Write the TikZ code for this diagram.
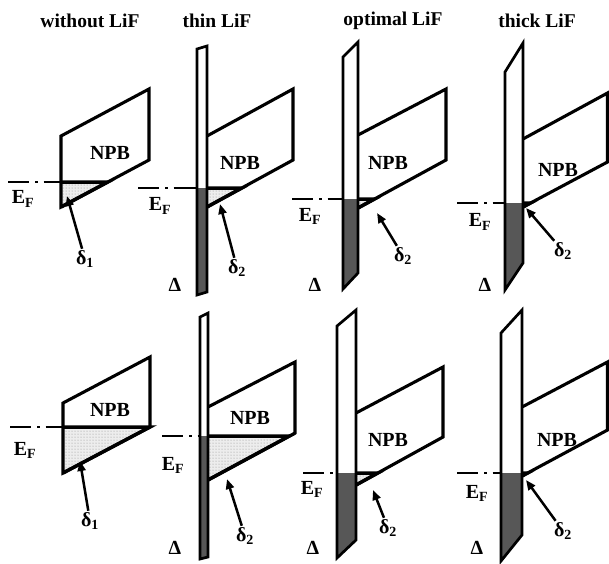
\documentclass[tikz,border=0pt]{standalone}
\usepackage{fontspec}
\setmainfont{Liberation Serif}
\usetikzlibrary{arrows.meta, patterns}

\begin{document}
\begin{tikzpicture}[
    x=1pt, y=-1pt,
    npb/.style={
        draw=black,
        line width=3.1pt,
        line join=miter
    },
    lifbar/.style={
        draw=black,
        line width=2.7pt,
        line join=miter
    },
    filled/.style={
        fill=black!66
    },
    stipple/.style={
        fill=black!7,
        postaction={pattern=dots, pattern color=black!45}
    },
    triedge/.style={
        draw=black,
        line width=3.5pt,
        line join=miter
    },
    efline/.style={
        draw=black,
        line width=2.7pt,
        dash pattern=on 21pt off 6pt on 2.5pt off 6pt on 400pt
    },
    title/.style={
        font=\fontsize{19.5}{22}\selectfont\bfseries
    },
    lbl/.style={
        font=\fontsize{20}{23}\selectfont\bfseries,
        inner sep=1.5pt
    },
    ptr/.style={
        -{Triangle[length=10pt, width=8pt]},
        line width=2.5pt
    }
]
\useasboundingbox (0,0) rectangle (609,563);

% Titles
\node (tA) [title] at (90,21) {without LiF};
\node (tB) [title] at (217,21) {thin LiF};
\node (tC) [title] at (393,21) {optimal LiF};
\node (tD) [title] at (537,21) {thick LiF};

% without LiF, top
\fill[stipple] (61,182) -- (107.8,182) -- (61,207) -- cycle;
\draw[efline] (8,182) -- (61,182);
\draw[npb] (61,136) -- (149,89) -- (149,160) -- (61,207) -- cycle;
\draw[triedge] (61,182) -- (107.8,182) -- (61,207);
\node (efA) [lbl] at (23,199) {E\textsubscript{F}};
\node (npbA) [lbl] at (110,153) {NPB};
\node (dA) [lbl] at (85,259) {δ\textsubscript{1}};
\coordinate (tipA) at (67,196);
\draw[ptr] (dA) -- (tipA);

% thin LiF, top
\fill[filled] (197,188) -- (207,188) -- (207,292) -- (197,295) -- cycle;
\fill[stipple] (207,188) -- (241.8,188) -- (207,207) -- cycle;
\draw[efline] (138,188) -- (197,188);
\draw[lifbar] (197,49) -- (207,46) -- (207,292) -- (197,295) -- cycle;
\draw[npb] (207,136) -- (293,89) -- (293,160) -- (207,207);
\draw[triedge] (207,188) -- (241.8,188) -- (207,207);
\node (efB) [lbl] at (160,206) {E\textsubscript{F}};
\node (npbB) [lbl] at (240,163) {NPB};
\node (delB) [lbl] at (175,285) {Δ};
\node (dB) [lbl] at (237,268) {δ\textsubscript{2}};
\coordinate (tipB) at (220,204);
\draw[ptr] (dB) -- (tipB);

% optimal LiF, top
\fill[filled] (343,199) -- (358,199) -- (358,273) -- (343,289) -- cycle;
\fill[stipple] (358,199) -- (374.5,199) -- (358,208) -- cycle;
\draw[efline] (292,199) -- (343,199);
\draw[lifbar] (343,57) -- (358,42) -- (358,273) -- (343,289) -- cycle;
\draw[npb] (358,135) -- (446,89) -- (446,160) -- (358,208);
\draw[triedge] (358,199) -- (374.5,199) -- (358,208);
\node (efC) [lbl] at (310,216) {E\textsubscript{F}};
\node (npbC) [lbl] at (388,163) {NPB};
\node (delC) [lbl] at (315,285) {Δ};
\node (dC) [lbl] at (403,256) {δ\textsubscript{2}};
\coordinate (tipC) at (377,213);
\draw[ptr] (dC) -- (tipC);

% thick LiF, top
\fill[filled] (505,203) -- (523,203) -- (523,263) -- (505,290) -- cycle;
\fill[stipple] (523,203) -- (530.5,203) -- (523,207) -- cycle;
\draw[efline] (457,203) -- (505,203);
\draw[lifbar] (505,72) -- (523,43) -- (523,263) -- (505,290) -- cycle;
\draw[npb] (523,139) -- (607.5,93) -- (607.5,162) -- (523,207);
\draw[triedge] (523,203) -- (530.5,203) -- (523,207);
\node (efD) [lbl] at (480,222) {E\textsubscript{F}};
\node (npbD) [lbl] at (558,170) {NPB};
\node (delD) [lbl] at (485,285) {Δ};
\node (dD) [lbl] at (563,251) {δ\textsubscript{2}};
\coordinate (tipD) at (526,208);
\draw[ptr] (dD) -- (tipD);

% without LiF, bottom
\fill[stipple] (63,427) -- (150,427) -- (63,473) -- cycle;
\draw[efline] (10,427) -- (63,427);
\draw[npb] (63,403) -- (150,357) -- (150,427) -- (63,473) -- cycle;
\draw[triedge] (63,427) -- (150,427) -- (63,473);
\node (efE) [lbl] at (25,450) {E\textsubscript{F}};
\node (npbE) [lbl] at (110,410) {NPB};
\node (dE) [lbl] at (90,521) {δ\textsubscript{1}};
\coordinate (tipE) at (80,461);
\draw[ptr] (dE) -- (tipE);

% thin LiF, bottom
\fill[filled] (200,436) -- (208,436) -- (208,557) -- (200,559) -- cycle;
\fill[stipple] (208,436) -- (289.4,436) -- (208,480) -- cycle;
\draw[efline] (162,436) -- (200,436);
\draw[lifbar] (200,317) -- (208,313) -- (208,557) -- (200,559) -- cycle;
\draw[npb] (208,407) -- (295,362) -- (295,433) -- (208,480);
\draw[triedge] (208,436) -- (289.4,436) -- (208,480);
\node (efF) [lbl] at (173,465) {E\textsubscript{F}};
\node (npbF) [lbl] at (250,418) {NPB};
\node (delF) [lbl] at (175,548) {Δ};
\node (dF) [lbl] at (245,536) {δ\textsubscript{2}};
\coordinate (tipF) at (227,479);
\draw[ptr] (dF) -- (tipF);

% optimal LiF, bottom
\fill[filled] (337,473) -- (356,473) -- (356,540) -- (337,558) -- cycle;
\fill[stipple] (356,473) -- (377.8,473) -- (356,485) -- cycle;
\draw[efline] (303,473) -- (337,473);
\draw[lifbar] (337,326) -- (356,310) -- (356,540) -- (337,558) -- cycle;
\draw[npb] (356,413) -- (443,367) -- (443,437) -- (356,485);
\draw[triedge] (356,473) -- (377.8,473) -- (356,485);
\node (efG) [lbl] at (312,489) {E\textsubscript{F}};
\node (npbG) [lbl] at (388,440) {NPB};
\node (delG) [lbl] at (313,548) {Δ};
\node (dG) [lbl] at (388,528) {δ\textsubscript{2}};
\coordinate (tipG) at (373,490);
\draw[ptr] (dG) -- (tipG);

% thick LiF, bottom
\fill[filled] (501,473) -- (522,473) -- (522,535) -- (501,561) -- cycle;
\fill[stipple] (522,473) -- (527.6,473) -- (522,476) -- cycle;
\draw[efline] (457,473) -- (501,473);
\draw[lifbar] (501,333) -- (522,310) -- (522,535) -- (501,561) -- cycle;
\draw[npb] (522,407) -- (607.5,362) -- (607.5,430) -- (522,476);
\draw[triedge] (522,473) -- (527.6,473) -- (522,476);
\node (efH) [lbl] at (477,493) {E\textsubscript{F}};
\node (npbH) [lbl] at (557,440) {NPB};
\node (delH) [lbl] at (477,548) {Δ};
\node (dH) [lbl] at (563,531) {δ\textsubscript{2}};
\coordinate (tipH) at (526,480);
\draw[ptr] (dH) -- (tipH);

\end{tikzpicture}
\end{document}
